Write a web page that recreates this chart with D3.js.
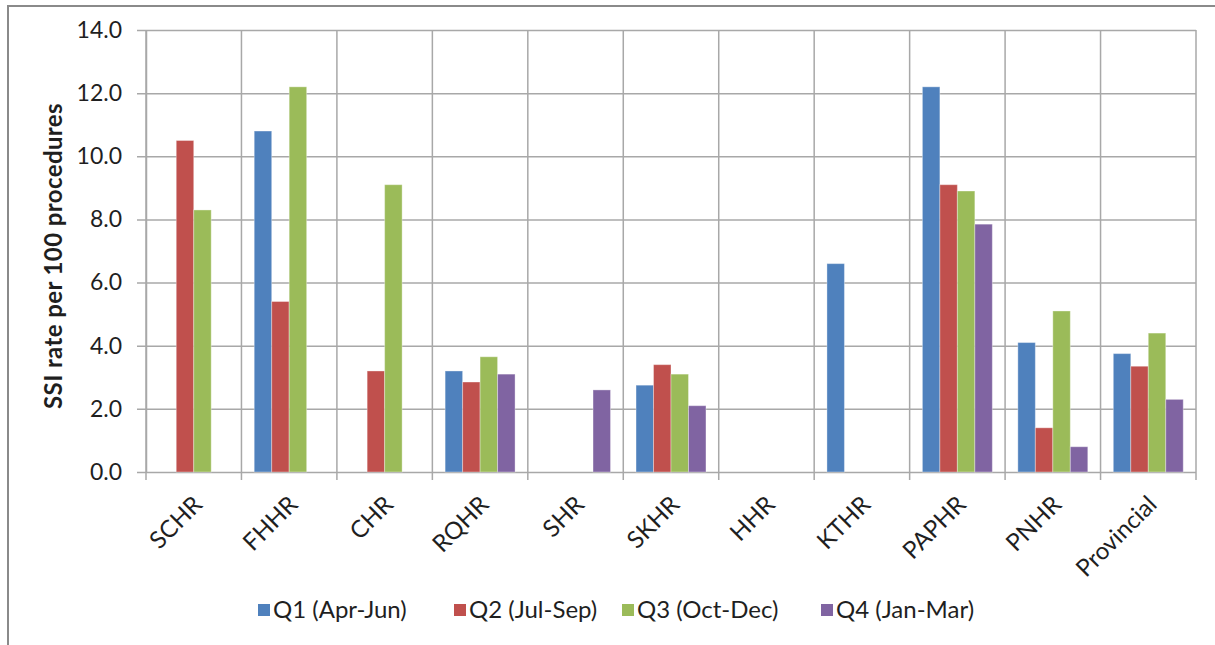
<!DOCTYPE html>
<html>
<head>
<meta charset="utf-8">
<script src="https://cdn.jsdelivr.net/npm/d3@7"></script>
<style>
  html, body { margin: 0; padding: 0; background: #ffffff; }
  svg { display: block; }
  text { font-family: Lato, "Open Sans", sans-serif; fill: #1f1f1f; }
</style>
</head>
<body>
<svg id="chart" width="1215" height="645"></svg>
<script>
// Health regions along the category axis
const categories = ["SCHR", "FHHR", "CHR", "RQHR", "SHR", "SKHR", "HHR", "KTHR", "PAPHR", "PNHR", "Provincial"];

// Quarterly SSI rates per 100 procedures (null = no reported rate)
const seriesNames = ["Q1 (Apr-Jun)", "Q2 (Jul-Sep)", "Q3 (Oct-Dec)", "Q4 (Jan-Mar)"];
const q1 = [null, 10.8, null, 3.2, null, 2.75, null, 6.6, 12.2, 4.1, 3.75];
const q2 = [10.5, 5.4, 3.2, 2.85, null, 3.4, null, null, 9.1, 1.4, 3.35];
const q3 = [8.3, 12.2, 9.1, 3.65, null, 3.1, null, null, 8.9, 5.1, 4.4];
const q4 = [null, null, null, 3.1, 2.6, 2.1, null, null, 7.85, 0.8, 2.3];
const seriesValues = [q1, q2, q3, q4];
const seriesColors = ["#4F81BD", "#C0504D", "#9BBB59", "#8064A2"];

// Value axis ticks
const yTicks = [0, 2, 4, 6, 8, 10, 12, 14];
const yTitle = "SSI rate per 100 procedures";

const svg = d3.select("#chart");
const plot = { left: 146, right: 1196, top: 30, bottom: 472 };
const gridColor = "#a8a8a8";

// Outer chart frame (top and left edges visible)
svg.append("path")
  .attr("d", "M8,645 L8,6 L1215,6")
  .attr("fill", "none")
  .attr("stroke", "#8a8a8a")
  .attr("stroke-width", 2);

const x0 = d3.scaleBand().domain(categories).range([plot.left, plot.right]).paddingInner(0).paddingOuter(0);
const x1 = d3.scaleBand().domain(d3.range(seriesNames.length)).range([0, x0.bandwidth()]).paddingInner(0).paddingOuter(0.73);
const y = d3.scaleLinear().domain([0, 14]).range([plot.bottom, plot.top]);

// Horizontal gridlines with outside tick marks
const yAxis = d3.axisLeft(y)
  .tickValues(yTicks)
  .tickFormat(d3.format(".1f"))
  .tickSizeInner(-(plot.right - plot.left))
  .tickSizeOuter(0)
  .tickPadding(24);

const gy = svg.append("g").attr("transform", `translate(${plot.left},0)`).call(yAxis);
gy.select(".domain").attr("stroke", gridColor).attr("stroke-width", 1.5);
gy.selectAll(".tick line")
  .attr("x1", -9)
  .attr("stroke", gridColor)
  .attr("stroke-width", 1.5);
gy.selectAll(".tick text")
  .attr("font-size", 23)
  .attr("fill", "#1f1f1f")
  .style("font-family", "Lato, 'Open Sans', sans-serif");

// Vertical gridlines at category boundaries, extending below as ticks
const boundaries = categories.map(c => x0(c)).concat([plot.right]);
svg.append("g").selectAll("line")
  .data(boundaries)
  .join("line")
  .attr("x1", d => d).attr("x2", d => d)
  .attr("y1", plot.top).attr("y2", plot.bottom + 8)
  .attr("stroke", gridColor)
  .attr("stroke-width", 1.5);

// Bars
const barData = [];
categories.forEach((c, i) => {
  seriesValues.forEach((vals, s) => {
    if (vals[i] != null) barData.push({ cat: c, s, v: vals[i] });
  });
});

svg.append("g").selectAll("rect")
  .data(barData)
  .join("rect")
  .attr("x", d => x0(d.cat) + x1(d.s))
  .attr("y", d => y(d.v))
  .attr("width", x1.bandwidth())
  .attr("height", d => y(0) - y(d.v))
  .attr("fill", d => seriesColors[d.s])
  .attr("stroke", "rgba(255,255,255,0.35)")
  .attr("stroke-width", 1);

// Category labels rotated 45 degrees
svg.append("g").selectAll("text")
  .data(categories)
  .join("text")
  .attr("transform", c => `translate(${x0(c) + x0.bandwidth() / 2 + 10},${plot.bottom + 34}) rotate(-45)`)
  .attr("text-anchor", "end")
  .attr("font-size", 24)
  .text(c => c);

// Value axis title
svg.append("text")
  .attr("transform", `translate(62,${(plot.top + plot.bottom) / 2 + 5}) rotate(-90)`)
  .attr("text-anchor", "middle")
  .attr("font-size", 24)
  .attr("font-weight", "bold")
  .attr("letter-spacing", 0.4)
  .text(yTitle);

// Legend
const legendX = [258, 454, 622, 821];
const legend = svg.append("g").selectAll("g")
  .data(seriesNames)
  .join("g")
  .attr("transform", (d, i) => `translate(${legendX[i]},610)`);
legend.append("rect")
  .attr("x", 0).attr("y", -6)
  .attr("width", 12).attr("height", 12)
  .attr("fill", (d, i) => seriesColors[i]);
legend.append("text")
  .attr("x", 15)
  .attr("y", 8)
  .attr("font-size", 24)
  .text(d => d);
</script>
</body>
</html>
